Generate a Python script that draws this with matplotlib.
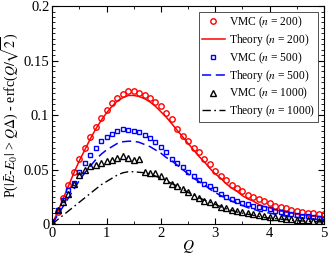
import numpy as np
import matplotlib
matplotlib.use("Agg")
import matplotlib.pyplot as plt
from matplotlib.ticker import MultipleLocator

plt.rcParams['font.family'] = ['Liberation Serif', 'DejaVu Serif']
plt.rcParams['mathtext.fontset'] = 'stix'

# Q values of the markers / curves
q = [i / 10 for i in range(51)]

vmc_200 = [0.000, 0.011, 0.024, 0.036, 0.048, 0.060, 0.070, 0.080, 0.089, 0.097,
           0.105, 0.111, 0.116, 0.119, 0.122, 0.122, 0.120, 0.118, 0.116, 0.112,
           0.108, 0.102, 0.096, 0.087, 0.081, 0.076, 0.070, 0.066, 0.060, 0.055,
           0.049, 0.044, 0.040, 0.036, 0.033, 0.030, 0.027, 0.025, 0.023, 0.021,
           0.019, 0.017, 0.016, 0.0145, 0.013, 0.012, 0.011, 0.0105, 0.010, 0.0095,
           0.009]
theory_200 = [0.000, 0.011, 0.023, 0.035, 0.047, 0.058, 0.068, 0.078, 0.087, 0.095,
              0.102, 0.108, 0.113, 0.116, 0.118, 0.118, 0.117, 0.115, 0.112, 0.108,
              0.103, 0.098, 0.092, 0.086, 0.080, 0.074, 0.068, 0.062, 0.057, 0.051,
              0.046, 0.042, 0.037, 0.033, 0.030, 0.026, 0.023, 0.021, 0.018, 0.016,
              0.015, 0.013, 0.012, 0.011, 0.010, 0.009, 0.0085, 0.008, 0.0075, 0.007,
              0.0065]
vmc_500 = [0.002, 0.013, 0.022, 0.031, 0.038, 0.048, 0.056, 0.063, 0.070, 0.076,
           0.080, 0.083, 0.085, 0.087, 0.086, 0.085, 0.084, 0.082, 0.079, 0.075,
           0.071, 0.066, 0.060, 0.056, 0.052, 0.048, 0.044, 0.040, 0.037, 0.035,
           0.032, 0.028, 0.025, 0.023, 0.021, 0.019, 0.018, 0.017, 0.016, 0.0145,
           0.0135, 0.012, 0.011, 0.010, 0.009, 0.008, 0.0075, 0.007, 0.006, 0.0055,
           0.005]
theory_500 = [0.000, 0.008, 0.016, 0.024, 0.032, 0.040, 0.047, 0.053, 0.059, 0.064,
              0.068, 0.071, 0.074, 0.0755, 0.076, 0.076, 0.075, 0.073, 0.071, 0.068,
              0.065, 0.061, 0.058, 0.054, 0.050, 0.046, 0.042, 0.039, 0.036, 0.032,
              0.029, 0.026, 0.024, 0.021, 0.019, 0.017, 0.015, 0.0135, 0.012, 0.011,
              0.010, 0.009, 0.008, 0.0072, 0.0065, 0.006, 0.0055, 0.005, 0.0045, 0.004,
              0.0037]
vmc_1000 = [0.002, 0.013, 0.020, 0.028, 0.037, 0.045, 0.050, 0.053, 0.054, 0.056,
            0.058, 0.059, 0.061, 0.062, 0.0605, 0.059, 0.0595, 0.048, 0.047, 0.0465,
            0.044, 0.040, 0.037, 0.035, 0.032, 0.029, 0.026, 0.024, 0.021, 0.020,
            0.018, 0.016, 0.0145, 0.013, 0.012, 0.011, 0.010, 0.009, 0.008, 0.007,
            0.0065, 0.006, 0.0055, 0.005, 0.0045, 0.004, 0.0035, 0.0035, 0.003, 0.003,
            0.0025]
theory_1000 = [0.000, 0.004, 0.008, 0.012, 0.016, 0.020, 0.024, 0.028, 0.032, 0.036,
               0.039, 0.042, 0.045, 0.047, 0.048, 0.048, 0.0475, 0.047, 0.046, 0.044,
               0.042, 0.040, 0.037, 0.035, 0.032, 0.029, 0.027, 0.024, 0.022, 0.020,
               0.018, 0.016, 0.014, 0.0125, 0.011, 0.010, 0.009, 0.008, 0.007, 0.006,
               0.0055, 0.005, 0.0045, 0.004, 0.0035, 0.003, 0.0028, 0.0025, 0.0022, 0.002,
               0.0018]

fig = plt.figure(figsize=(3.28, 2.54), dpi=100)
ax = fig.add_axes([0.159, 0.118, 0.829, 0.858])

ax.plot(q, vmc_200, 'o', ms=3.9, mfc='none', mec='red', mew=1.0, label=r'VMC ($n$ = 200)')
ax.plot(q, theory_200, '-', color='red', lw=1.1, label=r'Theory ($n$ = 200)')
ax.plot(q, vmc_500, 's', ms=3.5, mfc='none', mec='blue', mew=1.0, label=r'VMC ($n$ = 500)')
ax.plot(q, theory_500, '--', color='blue', lw=1.1, dashes=(6, 3), label=r'Theory ($n$ = 500)')
ax.plot(q, vmc_1000, '^', ms=3.9, mfc='none', mec='black', mew=1.0, label=r'VMC ($n$ = 1000)')
ax.plot(q, theory_1000, '-.', color='black', lw=1.0, dashes=(6, 2.5, 1.2, 2.5), label=r'Theory ($n$ = 1000)')

ax.set_xlim(0, 5)
ax.set_ylim(0, 0.2)
ax.xaxis.set_major_locator(MultipleLocator(1))
ax.xaxis.set_minor_locator(MultipleLocator(0.5))
ax.yaxis.set_minor_locator(MultipleLocator(0.005))
ax.set_yticks([0, 0.05, 0.1, 0.15, 0.2])
ax.set_yticklabels(['0', '0.05', '0.1', '0.15', '0.2'])
ax.tick_params(which='both', direction='in', top=True, right=True, labelsize=10.5, pad=2)
ax.tick_params(which='major', length=4)
ax.tick_params(which='minor', length=2)

ax.set_xlabel(r'$Q$', fontsize=11, labelpad=-1)
ax.set_ylabel(r'P($|\bar{E}$-$E_0|$ > $Q\Delta$) - erfc($Q/\sqrt{2}$)', fontsize=10, labelpad=1)

leg = ax.legend(loc='upper right', fontsize=8.3, frameon=True, fancybox=False,
                edgecolor='black', handlelength=2.0, handletextpad=0.4,
                labelspacing=0.18, borderpad=0.25, borderaxespad=0.5)
leg.get_frame().set_linewidth(0.6)

fig.savefig('out.png', dpi=100)
